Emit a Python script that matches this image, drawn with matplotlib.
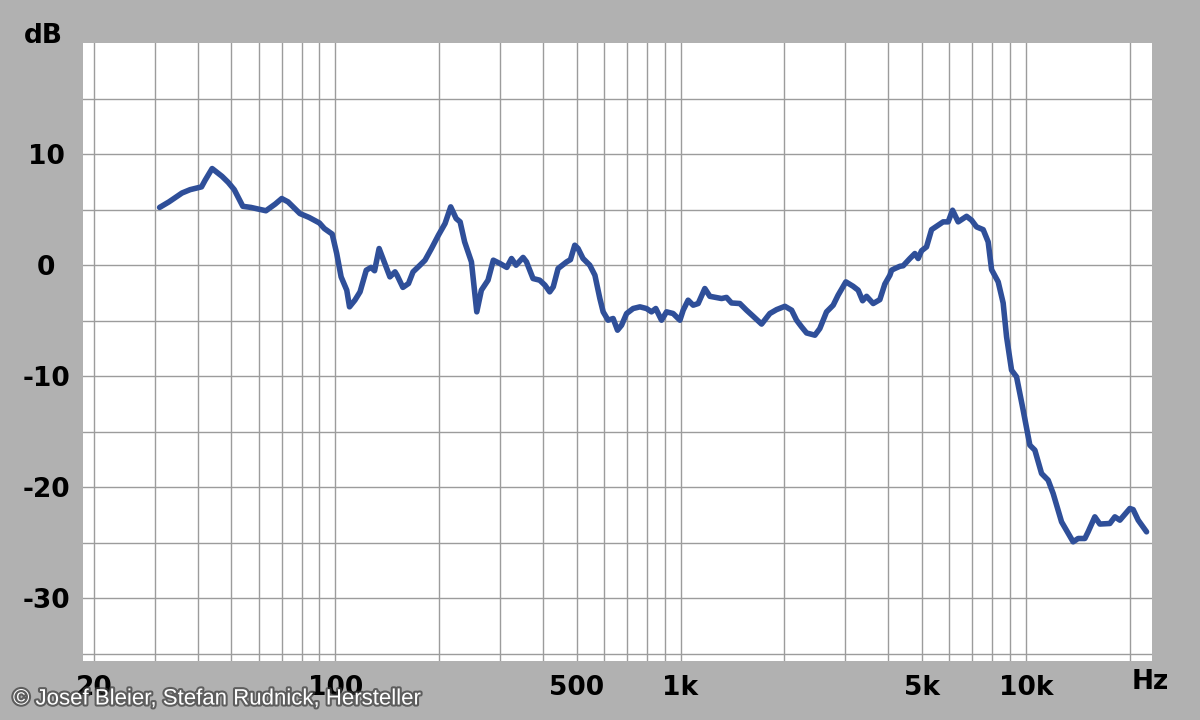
import numpy as np
import matplotlib
matplotlib.use("Agg")
import matplotlib.pyplot as plt
import matplotlib.patheffects as pe

plt.rcParams["axes.unicode_minus"] = False

# frequency response (Hz, dB)
freq_hz = [31, 33, 36, 38, 41, 42, 44, 47, 49, 51, 54, 57, 63, 67, 70, 73,
           79, 84, 90, 93, 98, 101, 104, 108, 110, 114, 118, 123, 127, 130,
           134, 138, 144, 149, 151, 157, 163, 168, 176, 182, 190, 199, 208,
           216, 224, 230, 237, 248, 257, 265, 277, 287, 300, 314, 324, 334,
           350, 358, 374, 391, 405, 418, 428, 442, 468, 480, 494, 505, 522,
           546, 565, 584, 597, 617, 638, 657, 675, 698, 729, 763, 797, 824,
           848, 881, 911, 952, 996, 1018, 1052, 1088, 1125, 1176, 1216, 1315,
           1359, 1405, 1485, 1553, 1624, 1717, 1814, 1897, 2006, 2098, 2168,
           2242, 2318, 2450, 2532, 2648, 2768, 2860, 3012, 3162, 3270, 3368,
           3458, 3614, 3778, 3906, 4040, 4086, 4176, 4318, 4414, 4616, 4772,
           4878, 4990, 5158, 5334, 5574, 5762, 5958, 6136, 6370, 6736, 6966,
           7200, 7526, 7780, 7960, 8318, 8598, 8796, 9094, 9402, 9826, 10274,
           10624, 11108, 11608, 12002, 12692, 13712, 14178, 14826, 15154,
           15846, 16384, 17516, 18110, 18726, 20014, 20460, 21160, 22372]
level_db = [5.2, 5.7, 6.5, 6.8, 7.05, 7.65, 8.7, 8.0, 7.45, 6.8, 5.3, 5.2,
            4.9, 5.5, 6.0, 5.7, 4.65, 4.3, 3.8, 3.3, 2.8, 1.05, -1.05, -2.25,
            -3.75, -3.15, -2.4, -0.45, -0.2, -0.5, 1.5, 0.45, -1.05, -0.6,
            -0.9, -2.0, -1.65, -0.6, 0.0, 0.45, 1.5, 2.7, 3.75, 5.25, 4.2,
            3.9, 2.1, 0.3, -4.2, -2.25, -1.35, 0.45, 0.15, -0.2, 0.6, 0.0,
            0.7, 0.3, -1.2, -1.35, -1.8, -2.4, -1.95, -0.3, 0.3, 0.5, 1.8,
            1.5, 0.6, 0.0, -0.9, -3.0, -4.2, -4.95, -4.8, -5.85, -5.4, -4.35,
            -3.9, -3.75, -3.9, -4.2, -3.9, -4.95, -4.2, -4.35, -4.95, -4.05,
            -3.15, -3.6, -3.45, -2.1, -2.8, -3.0, -2.9, -3.4, -3.45, -4.05,
            -4.6, -5.3, -4.35, -4.0, -3.7, -4.05, -4.95, -5.55, -6.1, -6.3,
            -5.7, -4.2, -3.6, -2.7, -1.5, -1.9, -2.25, -3.2, -2.8, -3.45,
            -3.1, -1.7, -0.9, -0.45, -0.3, -0.1, -0.05, 0.6, 1.05, 0.6, 1.3,
            1.65, 3.2, 3.6, 3.9, 3.9, 4.95, 3.9, 4.4, 4.05, 3.45, 3.2, 2.1,
            -0.4, -1.5, -3.4, -6.45, -9.45, -10.05, -13.05, -16.2, -16.65,
            -18.75, -19.35, -20.55, -23.1, -24.9, -24.6, -24.6, -24.0, -22.65,
            -23.3, -23.25, -22.65, -22.95, -21.9, -22.0, -22.95, -24.0]

x_major = [20, 100, 500, 1000, 5000, 10000]
x_major_labels = ["20", "100", "500", "1k", "5k", "10k"]
x_minor = [30, 40, 50, 60, 70, 80, 90, 200, 300, 400, 600, 700, 800, 900,
           2000, 3000, 4000, 6000, 7000, 8000, 9000, 20000]
y_major = [-30, -20, -10, 0, 10]
y_minor = [-35, -25, -15, -5, 5, 15]

bg = "#b1b1b1"
fig = plt.figure(figsize=(12, 7.2), dpi=100, facecolor=bg)
ax = fig.add_axes([83 / 1200, 1 - 660.7 / 720, (1152 - 83) / 1200, (660.7 - 43) / 720])
ax.set_facecolor("white")

ax.plot(freq_hz, level_db, color="#2f4f99", lw=4.0, solid_joinstyle="round",
        solid_capstyle="round", zorder=3)

ax.set_xscale("log")
ax.set_xlim(18.6, 23200)
ax.set_ylim(-35.6, 20)

ax.set_xticks(x_major)
ax.set_xticklabels(x_major_labels)
ax.set_xticks(x_minor, minor=True)
ax.xaxis.set_minor_formatter(plt.NullFormatter())
ax.set_yticks(y_major)
ax.set_yticks(y_minor, minor=True)
ax.yaxis.set_minor_formatter(plt.NullFormatter())

ax.grid(True, which="both", color="#9c9c9c", lw=1.0)
ax.set_axisbelow(True)
for s in ax.spines.values():
    s.set_visible(False)

ax.tick_params(which="both", length=0)
ax.tick_params(axis="x", pad=10)
ax.tick_params(axis="y", pad=26.5)
for lab in ax.get_xticklabels() + ax.get_yticklabels():
    lab.set_fontfamily("DejaVu Sans")
    lab.set_fontweight("bold")
    lab.set_fontsize(19)
for lab in ax.get_yticklabels():
    lab.set_ha("center")

fig.text(43 / 1200, 1 - 36 / 720, "dB", ha="center", va="center",
         fontsize=19, fontweight="bold", family="DejaVu Sans")
fig.text(1150 / 1200, 1 - 682 / 720, "Hz", ha="center", va="center",
         fontsize=19, fontweight="bold", family="DejaVu Sans")

fig.text(13 / 1200, 1 - 699 / 720, "© Josef Bleier, Stefan Rudnick, Hersteller",
         ha="left", va="center", fontsize=16, color="white",
         family="Liberation Sans",
         path_effects=[pe.withStroke(linewidth=3, foreground="#3a3a3a", alpha=0.7)])

fig.savefig("out.png", dpi=100, facecolor=bg)
